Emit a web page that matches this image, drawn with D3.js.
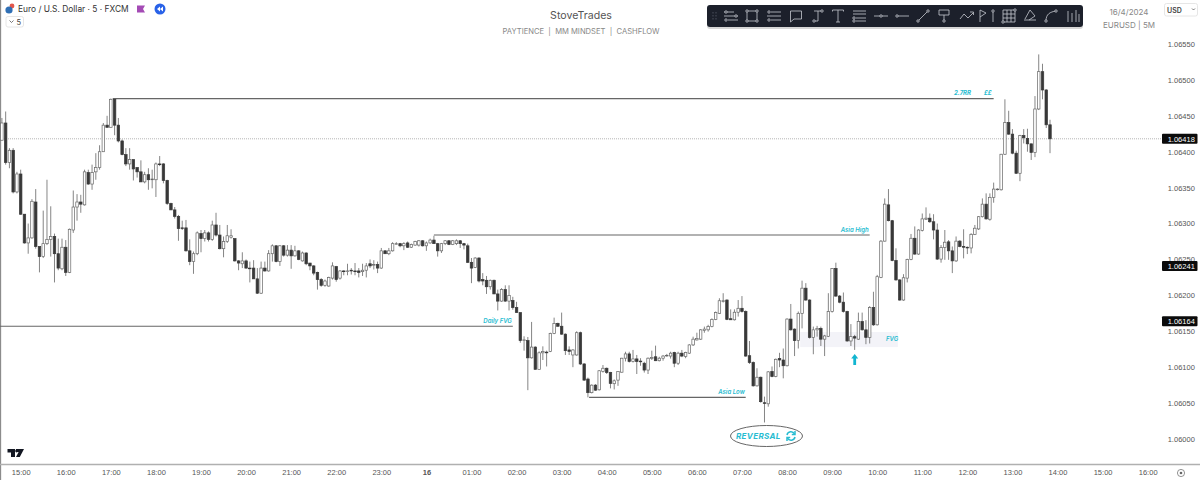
<!DOCTYPE html>
<html>
<head>
<meta charset="utf-8">
<script src="https://cdn.jsdelivr.net/npm/d3@7"></script>
<style>
  body { margin: 0; background: #fff; }
  text { font-family: Inter, "Noto Sans", sans-serif; }
  .domain { display: none; }
</style>
</head>
<body>
<script>
// EURUSD 5m candles. Values are pips above priceBase.
var priceBase = 1.06;
var opens = [
  41.6,44,38.5,40.2,34.4,36.9,31.3,27.3,28,33,
  26.8,25.4,27.2,27.8,28.2,25.8,23.7,26.7,23.2,29.1,
  32.3,33,32.6,37.1,35.5,37.2,37.8,40,43.7,43.4,
  47.3,43.7,41.5,39.6,38.3,38.9,37.8,37.2,35.8,36.8,
  36.1,36.1,38.3,38.3,36,32.8,31.9,31,29.4,29.4,
  26.2,24.7,25.8,28.6,27.9,28.7,27.8,29.8,28.4,26.5,
  27.5,28.1,27.9,24.8,24.4,24.8,23.8,23.8,22.3,20.3,
  23.8,23.4,25.8,26.9,24.7,26.9,25.6,26.3,25.5,26.2,
  24.8,25.9,24.5,24.1,23.2,22.2,21.4,21.3,22.4,24,
  22.4,23.4,23.4,23.5,23.4,23.4,23.3,23.5,24.4,24.2,
  24.3,23.8,26.2,25.8,26.2,27.2,27.2,26.9,27.3,26.7,
  27,27,27.6,26.9,27.3,27.7,27.2,26.2,27.2,27.6,
  27.1,27.2,27.6,27.2,26.9,24.6,23.9,25.2,22.2,22.1,
  21.2,22.1,20.2,19.2,20.8,19.2,19.3,18.3,17.6,13.7,
  13.7,11.3,12.8,9.7,12,12.1,12.2,14.7,16.1,15.7,
  14.6,12.4,11.7,11.7,14.8,10.45,8.35,6.45,7.5,6.85,
  9.4,9.85,9.25,7.7,8.2,9.3,11.25,11.85,10.8,11.15,
  10.85,10.55,9.6,11.2,11.45,10.9,11.25,11.6,11.55,12.05,
  10.55,11.95,11.5,11.95,13.1,13.8,13.9,15.1,15.2,15.65,
  16.65,17.5,19.2,19.35,16.75,16.6,17.65,18.2,17.75,11.6,
  10.65,7.4,8.6,5.05,4.9,9.4,8.7,11.2,11,10.2,
  16.7,15.3,13.7,17.5,21,19.35,14.15,15.2,15.4,13.9,
  14.3,17.75,23.75,19.9,19.05,17.75,13.65,14.25,13.9,16.35,
  15.2,14.15,18.3,15.9,22.5,27.55,32.6,30.4,24.85,22.15,
  19.35,22.4,25,27.95,25.75,29.05,30.6,30.75,30.25,29.1,
  25.05,26.65,27.45,26.2,24.8,27.55,26.8,26.7,26.6,28.5,
  29.25,30.95,32.7,30.6,33.65,34.75,34.7,39.65,44.05,42.45,
  39.8,37,42.25,41.85,41.1,39.9,45.95,51.15,48.6,43.75
];
var highs = [
  44.7,45.6,40.5,40.5,37.2,37.5,31.3,30,33.4,34.8,
  26.8,31.8,36.1,32.4,28.6,27.9,27.9,27.7,29.3,34.6,
  34.1,34,37.5,37.5,38.2,39.8,40.9,44,45,47.4,
  47.4,44.7,41.7,40.5,40.5,38.9,37.8,38.8,37.2,37.7,
  37.5,38.5,39.4,38.4,36.1,32.9,32.3,31.2,30.4,30.5,
  27.8,26.1,28.9,29.1,29.1,28.9,30.4,31.5,29.8,28.2,
  29.8,29.2,27.9,24.9,26,25,24.7,24.9,23.8,24.7,
  24.7,26.3,27.1,27,27,27,27,27,26.9,26.3,
  26.1,26,24.5,24.2,23.3,22.4,22.2,22.6,24.6,24.1,
  23.5,23.5,24.4,23.8,24.5,23.8,24.4,24.5,25,24.9,
  24.7,26.6,26.3,26.6,27.4,27.4,27.3,27.4,27.5,27.2,
  27.6,27.7,27.7,27.5,27.9,28.3,27.3,27.3,27.7,27.7,
  27.7,27.8,27.7,27.3,27.2,25.2,25.3,25.3,23.1,22.7,
  22.2,22.2,20.8,21,21.4,21.4,19.8,19.1,17.6,14.3,
  14.2,16.3,12.9,12.2,12.9,12.3,14.8,16.9,16.2,17.6,
  14.7,12.9,12.5,15,14.95,10.55,8.55,7.6,7.65,9.6,
  10.3,9.95,9.35,8.3,9.4,11.3,12.15,12.15,12.4,11.7,
  11.25,10.75,11.35,12.3,13,11.45,11.7,11.85,12.15,12.15,
  12.15,12.4,12.15,13.2,14.25,14.8,15.3,15.65,15.9,16.8,
  17.75,19.6,20.3,19.45,18.05,18.05,19.35,19.9,17.9,13.65,
  10.8,9.85,8.7,5.9,9.45,10.1,11.2,12,12.6,16.8,
  18.8,15.4,17.75,22.05,21.7,19.45,15.65,15.75,15.65,14.5,
  20.3,23.8,24.55,20.05,20.4,17.85,16,14.5,17.6,17.6,
  16.55,18.5,20.5,22.85,27.7,33.5,34.8,30.5,26.55,22.25,
  22.95,25.1,28.55,29.6,29.2,31.4,32.25,31.4,31.3,30,
  27,29.1,27.7,26.8,28.2,27.7,29.2,26.8,28.65,29.8,
  31.05,33.5,34.2,34.2,35.7,34.9,39.7,47.3,45.7,43.15,
  40.15,42.35,43.15,43.2,41.1,47.75,53.55,52.25,48.7,44.45
];
var lows = [
  41.6,38.2,37.7,34.2,34.2,31.2,27.2,25.8,27.9,26.5,
  23.2,25.2,27,25.4,21.8,23.5,23.5,22.7,23.1,28.7,
  30.4,31.5,32.5,35.4,34.7,36.1,37.5,40,43.4,43.4,
  42.3,41.3,39.5,38,37.5,36,36.4,35.8,35.6,34.7,
  34.9,33.7,38,35.6,32.6,31.9,30.7,27.6,29.1,26.1,
  24.2,23,25.6,26,27.5,27.5,27.6,28.2,26.4,25.3,
  27.3,27.9,24.7,23.5,23.8,23.7,21.8,22.3,20.2,20.2,
  23.3,23.3,24.7,24.6,24.1,25.4,25.4,23.7,25.4,24.9,
  24.7,24.2,23.5,22.8,20.8,21.2,21.2,21.2,22.2,21.9,
  22.2,22.8,22.8,22.9,22.8,22.5,22.7,22.5,23.8,23.6,
  23.1,23.7,25.8,25.6,26.1,27.1,26.7,26.3,26.6,26.6,
  26.9,26.8,26.8,26.2,27.2,27.2,25.4,25.9,27,27,
  27,27,26.6,26.4,24.5,21.7,23.8,21.8,21.4,20.2,
  20.8,20.2,17.9,19.1,19.1,17.9,18,17.6,13.4,12.3,
  6.8,11.2,9.7,9.7,11,10.1,12.1,14.6,15.6,14.5,
  11.7,11.7,10,11.6,10.3,8.1,5.8,6.35,6.7,6.75,
  9.25,9.05,7.05,6.9,7.4,9.25,10.8,10.65,10.65,9.05,
  10.2,9.25,9.05,11,10.85,10.8,10.9,11.45,11.2,10,
  10.3,11.4,11.25,11.85,12.95,13.7,13.8,14.8,14.95,15.55,
  16.55,17.4,19,16.55,16.6,16.5,17.05,17.6,11.45,10.45,
  7.3,7.3,5.05,2.3,4.5,8.6,8.6,10,8.45,10.1,
  15.1,11.55,12.6,15.4,19.25,14,11.8,14.25,12.95,11.55,
  14.2,17.6,19.8,18.9,17.6,13.55,12.95,12.4,13.8,15.1,
  13.2,13.3,15.75,15.8,22.4,27.5,30.3,24.75,22.05,19.25,
  19.25,21.8,24.9,25.65,25.65,28.9,30.5,30.1,27.8,24.95,
  24.55,24.95,24.95,23.1,24.65,26.7,25.15,25.75,25.85,28.4,
  29.1,30.85,30.55,30.4,32.9,34.6,34.6,39.55,42.35,39.65,
  36.9,35.9,41.15,40,38.85,39.25,45.8,47.3,43.3,39.8
];
var closes = [
  44,38.5,40.2,34.4,36.9,31.3,27.3,28,33.1,26.8,
  25.4,27.2,27.8,28.2,25.8,23.8,26.7,23.2,29.2,32.3,
  33,32.7,37.2,35.5,37.1,37.8,40,43.7,43.4,47.3,
  43.7,41.5,39.6,38.3,38.9,37.6,37.2,35.8,36.8,36.1,
  36.2,38.3,38.2,36,32.8,31.9,31,29.3,29.3,26.2,
  24.7,25.8,28.7,27.9,28.7,27.8,29.8,28.4,26.5,27.5,
  28.3,28.3,24.8,24.5,24.8,23.8,23.7,22.3,20.3,23.8,
  23.4,25.8,26.9,24.7,26.9,25.6,26.3,25.5,26.2,25,
  25.9,24.4,24.1,23.1,22.2,21.4,22,22.5,24.1,22.2,
  23.4,23.3,23.4,23.4,23.3,23.2,23.5,24.1,24.1,24.3,
  23.8,26.2,25.8,26.2,27.2,27.2,26.9,27.2,26.7,27.1,
  27.5,27.6,26.9,27.3,27.7,27.2,26.2,27.2,27.6,27.1,
  27.6,27.6,27.2,27,24.6,23.8,25.2,22,22,21.2,
  22.1,20.2,19.2,20.8,19.2,20,18.3,17.6,13.7,13.8,
  11.3,12.8,9.7,12,12.2,12,14.7,16.1,15.7,14.6,
  12.3,12.2,12.4,14.8,10.45,8.2,6.45,7.5,6.8,9.5,
  9.85,9.25,7.75,8.1,9.4,11.25,11.85,10.8,11.15,10.8,
  10.75,9.6,11.25,11.35,10.9,11.25,11.55,11.65,11.95,10.55,
  11.95,11.55,12.05,13.1,13.9,14,15.2,15.3,15.65,16.65,
  17.6,19.25,19.25,16.65,16.6,17.65,18.2,17.75,11.55,10.65,
  7.4,8.6,5.2,4.95,9.35,8.7,11.1,11,10.2,16.7,
  15.2,13.7,17.5,21,19.35,14.15,15.2,15.4,13.9,14.35,
  17.75,23.75,19.9,19.05,17.75,13.65,14.25,14.05,16.35,15.2,
  14.15,18.3,15.9,22.6,27.55,32.7,30.4,24.85,22.15,19.35,
  22.45,25,27.95,25.75,29.1,30.65,30.75,30.25,29.1,25.05,
  26.65,27.4,26.2,24.8,27.55,26.8,26.7,26.6,28.5,29.35,
  30.95,32.7,30.65,33.65,34.8,34.8,39.65,44.05,42.45,39.8,
  37,42.25,41.95,41.1,39.9,45.95,51.15,48.6,43.75,41.8
];

var priceTicks = [1.06, 1.0605, 1.061, 1.0615, 1.062, 1.0625, 1.063, 1.0635, 1.064, 1.0645, 1.065, 1.0655];
var hourLabels = ["15:00","16:00","17:00","18:00","19:00","20:00","21:00","22:00","23:00","16",
  "01:00","02:00","03:00","04:00","05:00","06:00","07:00","08:00","09:00","10:00",
  "11:00","12:00","13:00","14:00","15:00","16:00"];
var hourTickIndex = [5,17,29,41,53,65,77,89,101,113,125,137,149,161,173,185,197,209,221,233,245,257,269,281,293,305];
var priceBoxes = [1.06418, 1.06241, 1.06164];

// Drawn levels: price, first candle index, last candle index (extends past the data where needed)
var levelPrices = [1.06474, 1.06284, 1.06157, 1.06058];
var levelStart = [29.5, 115, -1, 156.3];
var levelEnd = [264, 231, 136, 198];
var levelNames = ["", "Asia High", "Daily FVG", "Asia Low"];

var width = 1200, height = 480;
var axisFont = "Liberation Sans";

var svg = d3.select("body").append("svg")
  .attr("width", width)
  .attr("height", height)
  .style("display", "block");

var x = d3.scaleLinear().domain([0, 279]).range([1.9, 1050]);
var y = d3.scaleLinear().domain([1.06, 1.0655]).range([439, 44]);

function px(v) { return y(priceBase + v / 10000); }

// frame on the left and along the bottom
svg.append("line").attr("x1", 0.5).attr("x2", 0.5).attr("y1", 0).attr("y2", 480).attr("stroke", "#8c8c8c").attr("stroke-width", 1.3);
svg.append("line").attr("x1", 0).attr("x2", 1200).attr("y1", 464.5).attr("y2", 464.5).attr("stroke", "#b0b0b0").attr("stroke-width", 1.5);

// FVG box
svg.append("rect")
  .attr("x", x(212.5)).attr("width", x(238.5) - x(212.5))
  .attr("y", y(1.06149)).attr("height", y(1.06128) - y(1.06149))
  .attr("fill", "#f3f3f8");

// last price line
svg.append("line")
  .attr("x1", 0).attr("x2", 1163)
  .attr("y1", y(priceBoxes[0])).attr("y2", y(priceBoxes[0]))
  .attr("stroke", "#b5b5b5").attr("stroke-dasharray", "1,1");

// horizontal levels
var levels = svg.append("g");
levelPrices.forEach(function(p, i) {
  levels.append("line")
    .attr("x1", Math.max(0, x(levelStart[i]))).attr("x2", x(levelEnd[i]))
    .attr("y1", y(p)).attr("y2", y(p))
    .attr("stroke", "#666").attr("stroke-width", 1.1);
  if (levelNames[i]) {
    levels.append("text")
      .attr("x", x(levelEnd[i]) - 1).attr("y", y(p) - 3)
      .attr("text-anchor", "end")
      .attr("font-size", 6).attr("font-style", "italic").attr("font-weight", 600)
      .attr("fill", "#27bcd1").text(levelNames[i]);
  }
});

// candles
var index = d3.range(opens.length);
var candles = svg.append("g");
candles.selectAll(".wick").data(index).join("line")
  .attr("class", "wick")
  .attr("x1", function(i) { return x(i); })
  .attr("x2", function(i) { return x(i); })
  .attr("y1", function(i) { return px(highs[i]); })
  .attr("y2", function(i) { return px(lows[i]); })
  .attr("stroke", "#666").attr("stroke-width", 0.8);
candles.selectAll(".body").data(index).join("rect")
  .attr("class", "body")
  .attr("x", function(i) { return x(i) - 1.25; })
  .attr("width", 2.5)
  .attr("y", function(i) { return px(Math.max(opens[i], closes[i])); })
  .attr("height", function(i) { return Math.max(0.6, Math.abs(px(opens[i]) - px(closes[i]))); })
  .attr("fill", function(i) { return closes[i] >= opens[i] ? "#fff" : "#383838"; })
  .attr("stroke", function(i) { return closes[i] >= opens[i] ? "#666" : "#383838"; })
  .attr("stroke-width", 0.7);

// price axis
var priceAxis = d3.axisRight(y).tickValues(priceTicks).tickSize(0).tickFormat(d3.format(".5f"));
svg.append("g").attr("transform", "translate(1167.7,0)").call(priceAxis)
  .call(function(g) { g.selectAll("text").attr("x", 0).attr("font-size", 7.5).attr("fill", "#555").style("font-family", axisFont); });

// current price boxes
var boxes = svg.append("g");
priceBoxes.forEach(function(p) {
  boxes.append("rect").attr("x", 1162).attr("width", 35.5).attr("y", y(p) - 5).attr("height", 10).attr("rx", 1).attr("fill", "#0b0b0b");
  boxes.append("text").attr("x", 1167.7).attr("y", y(p) + 2.7).attr("font-size", 7.5).attr("fill", "#fff").style("font-family", axisFont).text(d3.format(".5f")(p));
});

// time axis
var timeAxis = d3.axisBottom(x).tickValues(hourTickIndex).tickSize(0)
  .tickFormat(function(d, i) { return hourLabels[i]; });
svg.append("g").attr("transform", "translate(0,465)").call(timeAxis)
  .call(function(g) {
    g.selectAll("text").attr("y", 5).attr("font-size", 7.5).attr("fill", "#555").style("font-family", axisFont)
      .attr("font-weight", function(d, i) { return hourLabels[i] === "16" ? 700 : 400; });
  });

// settings icon at the axis corner
svg.append("circle").attr("cx", 1181).attr("cy", 473).attr("r", 3.6).attr("fill", "none").attr("stroke", "#666").attr("stroke-width", 0.7);
svg.append("circle").attr("cx", 1181).attr("cy", 473).attr("r", 1.3).attr("fill", "#666");

// annotations in cyan
svg.append("text").attr("x", 954).attr("y", 95).attr("font-size", 6).attr("font-style", "italic").attr("font-weight", 700).attr("fill", "#27bcd1").text("2.7RR");
svg.append("text").attr("x", 984).attr("y", 95).attr("font-size", 6).attr("font-style", "italic").attr("font-weight", 700).attr("fill", "#27bcd1").text("££");
svg.append("text").attr("x", 886).attr("y", 341).attr("font-size", 6).attr("font-style", "italic").attr("font-weight", 600).attr("fill", "#27bcd1").text("FVG");
svg.append("path").attr("d", "M854.7 354 L851.2 358.5 H853.3 V365 H856.1 V358.5 H858.2 Z").attr("fill", "#12b5d0");

svg.append("ellipse").attr("cx", 766.5).attr("cy", 436).attr("rx", 36).attr("ry", 10.5).attr("fill", "#fff").attr("stroke", "#555").attr("stroke-width", 0.9);
svg.append("text").attr("x", 736).attr("y", 439).attr("font-size", 8).attr("font-style", "italic").attr("font-weight", 700).attr("letter-spacing", 0.35).attr("fill", "#27bcd1").text("REVERSAL");
svg.append("g").attr("transform", "translate(791,436)").attr("fill", "none").attr("stroke", "#27bcd1").attr("stroke-width", 1.5)
  .selectAll("path").data(["M-4,-1 A4,4 0 0 1 3.5,-2", "M4,1 A4,4 0 0 1 -3.5,2", "M4,-5 V-1.5 H0.8", "M-4,5 V1.5 H-0.8"])
  .join("path").attr("d", function(d) { return d; });

// titles
svg.append("text").attr("x", 581).attr("y", 19).attr("text-anchor", "middle").attr("font-size", 10.6).attr("fill", "#555").text("StoveTrades");
svg.append("text").attr("x", 581).attr("y", 34).attr("text-anchor", "middle").attr("font-size", 7.6).attr("fill", "#888").text("PAYTIENCE\u00a0\u00a0|\u00a0\u00a0MM MINDSET\u00a0\u00a0|\u00a0\u00a0CASHFLOW");
svg.append("text").attr("x", 1129).attr("y", 15).attr("text-anchor", "middle").attr("font-size", 8).attr("fill", "#888").text("16/4/2024");
svg.append("text").attr("x", 1129).attr("y", 28).attr("text-anchor", "middle").attr("font-size", 8).attr("fill", "#888").text("EURUSD | 5M");

// USD selector
svg.append("rect").attr("x", 1164.5).attr("y", 3.5).attr("width", 33).attr("height", 12.5).attr("rx", 2).attr("fill", "#fff").attr("stroke", "#e6e6e6");
svg.append("text").attr("x", 1167).attr("y", 12.5).attr("font-size", 7).attr("font-weight", 600).attr("fill", "#444").text("USD");
svg.append("path").attr("d", "M1192 8.5 l1.5 1.5 l1.5 -1.5").attr("fill", "none").attr("stroke", "#444").attr("stroke-width", 0.7);

// symbol header
svg.append("circle").attr("cx", 12).attr("cy", 6).attr("r", 2.4).attr("fill", "#e2574c");
svg.append("circle").attr("cx", 9).attr("cy", 10).attr("r", 3.6).attr("fill", "#2f6fb5");
svg.append("text").attr("x", 18).attr("y", 12).attr("font-size", 8.4).attr("fill", "#333").text("Euro / U.S. Dollar · 5 · FXCM");
svg.append("path").attr("d", "M137 5.5 H145 L143 9 L145 12.5 H137 Z").attr("fill", "#a44bb5");
svg.append("circle").attr("cx", 160).attr("cy", 9).attr("r", 5.5).attr("fill", "#2962e8");
svg.append("path").attr("d", "M160 6.5 L157 9 L160 11.5 Z M163 6.5 L160 9 L163 11.5 Z").attr("fill", "#fff");
svg.append("rect").attr("x", 6).attr("y", 16.5).attr("width", 17.5).attr("height", 10.5).attr("rx", 2).attr("fill", "#fff").attr("stroke", "#e6e6e6");
svg.append("path").attr("d", "M9.5 20.5 l2 2 l2 -2").attr("fill", "none").attr("stroke", "#555").attr("stroke-width", 0.8);
svg.append("text").attr("x", 16.5).attr("y", 25).attr("font-size", 7.5).attr("fill", "#444").text("5");

// TradingView mark
svg.append("path").attr("d", "M7.5 449 H15 V457 H11 V452.5 H7.5 Z M16 449 H24 L19.8 457 H16 L18.6 452 H16 Z").attr("fill", "#131722");
svg.append("circle").attr("cx", 16.6).attr("cy", 451).attr("r", 1.4).attr("fill", "#131722");

// drawing toolbar
var toolbarX = [731, 752, 774, 796, 817, 838, 859, 881, 902, 923, 944, 967, 983, 993, 1009, 1030, 1051, 1073];
var toolbarIcons = [
  "M-7,-4H3M-7,0H7M-3,4H7",
  "M-5,-5H5V5H-5Z",
  "M-3,-4H7M-7,0H7M-3,4H7",
  "M-5.5,-5H5.5V3H-2L-5.5,6Z",
  "M-3,-5H5M1,-5V5M-3,5H1",
  "M-5.5,-4.5V-6H5.5V-4.5M0,-6V6M-2,6H2",
  "M-6,-5H7M-6,-2H7M-3,2H7M-3,5H7",
  "M-7,0H7",
  "M-5,0H7",
  "M-5,5L5,-5",
  "M-5,-6H5V-1H-5ZM0,-1V4",
  "M-7,3L-3,-2L1,2L6,-3M3,-4H6.5V-1",
  "M-3,-6V6M-3,-6L3,-3L-3,1",
  "M0,-4V6",
  "M-6,-6H6V6H-6ZM-2,-6V6M2,-6V6M-6,-2H6M-6,2H6",
  "M-6,4L6,4M-5,3L0,-6L5,0L-1,4",
  "M-5,5C-5,-2 -1,-4 5,-5",
  "M-5,-5V6M-1,-3V6M3,-6V6M6,-2V6"
];
var toolbarNodes = [
  [[-5,-4],[5,0],[-5,4]], [[-5,-5],[5,-5],[-5,5],[5,5]], [[-5,-4],[-5,4]], [],
  [[5,-5],[-3,5]], [], [[-5,2],[-5,5]], [[0,0]], [[-5,0]], [[-5,5],[5,-5]], [[0,5]],
  [], [], [[0,-5]], [[-6,6],[6,-6]], [], [[-5,5],[5,-5]], []
];
svg.append("rect").attr("x", 707).attr("y", 7).attr("width", 376).attr("height", 22).attr("rx", 3).attr("fill", "#999").attr("opacity", 0.4);
svg.append("rect").attr("x", 707).attr("y", 5).attr("width", 376).attr("height", 22).attr("rx", 3).attr("fill", "#1c202b");
svg.append("path").attr("d", "M713 12V20M716 12V20").attr("stroke", "#4a4f5c").attr("stroke-dasharray", "1.5,1.5").attr("fill", "none");
var tools = svg.append("g").attr("fill", "none").attr("stroke", "#c6c9d0").attr("stroke-width", 0.8);
toolbarX.forEach(function(cx, i) {
  var g = tools.append("g").attr("transform", "translate(" + cx + ",16)");
  g.append("path").attr("d", toolbarIcons[i]);
  toolbarNodes[i].forEach(function(n) {
    g.append("circle").attr("cx", n[0]).attr("cy", n[1]).attr("r", 1.2).attr("fill", "#1c202b");
  });
});
</script>
</body>
</html>
